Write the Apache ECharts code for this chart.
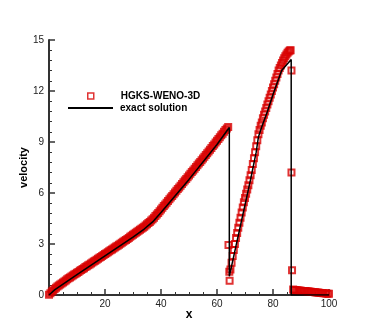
<!DOCTYPE html>
<html>
<head>
<meta charset="utf-8">
<script src="https://cdn.jsdelivr.net/npm/echarts@6/dist/echarts.min.js"></script>
<style>
  html, body { margin: 0; padding: 0; background: #fff; }
  #chart { width: 374px; height: 332px; }
</style>
</head>
<body>
<div id="chart"></div>
<script>
// HGKS-WENO-3D, smooth part sampled every 0.5 from x = 0 to 64
var smoothV = [
  0.02, 0.1, 0.2, 0.27, 0.35, 0.42, 0.5, 0.56, 0.62, 0.68,
  0.74, 0.8, 0.86, 0.92, 0.98, 1.03, 1.09, 1.14, 1.2, 1.25,
  1.31, 1.36, 1.42, 1.47, 1.53, 1.58, 1.64, 1.69, 1.75, 1.8,
  1.86, 1.91, 1.97, 2.02, 2.08, 2.13, 2.19, 2.24, 2.3, 2.35,
  2.41, 2.46, 2.52, 2.57, 2.63, 2.68, 2.74, 2.79, 2.85, 2.9,
  2.96, 3.01, 3.07, 3.13, 3.19, 3.24, 3.3, 3.36, 3.42, 3.48,
  3.54, 3.6, 3.66, 3.72, 3.78, 3.84, 3.9, 3.96, 4.02, 4.09,
  4.16, 4.23, 4.3, 4.38, 4.46, 4.55, 4.64, 4.73, 4.83, 4.93,
  5.03, 5.13, 5.23, 5.33, 5.43, 5.53, 5.63, 5.73, 5.83, 5.93,
  6.03, 6.13, 6.23, 6.33, 6.43, 6.53, 6.63, 6.73, 6.83, 6.93,
  7.03, 7.13, 7.23, 7.33, 7.43, 7.53, 7.63, 7.73, 7.83, 7.93,
  8.03, 8.13, 8.23, 8.34, 8.44, 8.55, 8.65, 8.76, 8.86, 8.97,
  9.07, 9.18, 9.28, 9.39, 9.49, 9.6, 9.7, 9.8, 9.88
];
// shock at x~64 and the rising part up to the second shock
var riseX = [
  64.1, 64.4, 64.5, 64.8, 65.2, 65.6, 66.0, 66.4, 66.8, 67.2, 67.6, 68.0,
  68.4, 68.8, 69.2, 69.6, 70.0, 70.4, 70.8, 71.2, 71.6, 72.0, 72.4, 72.8,
  73.2, 73.6, 74.0, 74.4, 74.8, 75.2, 75.6, 76.0, 76.4, 76.8, 77.2, 77.6,
  78.0, 78.4, 78.8, 79.2, 79.6, 80.0, 80.4, 80.8, 81.2, 81.6, 82.0, 82.4,
  82.8, 83.2, 83.6, 84.0, 84.4, 84.8, 85.2, 85.6, 86.0, 86.3
];
var riseV = [
  2.94, 1.37, 0.84, 1.5, 1.9, 2.3, 2.65, 3.0, 3.35, 3.65, 3.95, 4.25,
  4.55, 4.85, 5.15, 5.45, 5.7, 5.95, 6.2, 6.45, 6.75, 7.05, 7.35, 7.7,
  8.05, 8.4, 8.75, 9.1, 9.45, 9.7, 9.95, 10.15, 10.4, 10.6, 10.8, 11.0,
  11.2, 11.4, 11.6, 11.8, 12.0, 12.2, 12.4, 12.6, 12.8, 13.0, 13.2, 13.35,
  13.5, 13.65, 13.8, 13.92, 14.05, 14.15, 14.25, 14.32, 14.38, 14.4
];
// second shock and the tail
var tailX = [
  86.6, 86.6, 86.8, 87.2, 87.6, 88, 88.5, 89, 89.5, 90, 90.5, 91, 91.5,
  92, 92.5, 93, 93.5, 94, 94.5, 95, 95.5, 96, 96.5, 97, 97.5, 98, 98.5,
  99, 99.5, 100
];
var tailV = [
  13.2, 7.2, 1.45, 0.33, 0.3, 0.29, 0.28, 0.27, 0.26, 0.25, 0.24, 0.24, 0.23,
  0.22, 0.21, 0.2, 0.19, 0.18, 0.17, 0.16, 0.15, 0.14, 0.13, 0.12, 0.12, 0.11,
  0.1, 0.09, 0.08, 0.07
];
// exact solution
var exactX = [0, 2, 10, 20, 30, 34, 37, 40, 50, 60, 64.4, 64.4, 66, 68, 70, 72, 74, 74.8, 76, 78, 80, 82, 83.1, 86.5, 86.5, 100];
var exactV = [0, 0.3, 1.2, 2.3, 3.4, 3.88, 4.3, 4.85, 6.8, 8.85, 9.85, 1.1, 2.3, 3.8, 5.3, 6.8, 8.4, 9.3, 9.9, 10.8, 11.8, 12.7, 13.2, 13.85, 0, 0];

var numData = [];
smoothV.forEach(function (v, i) { numData.push([i * 0.5, v]); });
riseX.forEach(function (x, i) { numData.push([x, riseV[i]]); });
tailX.forEach(function (x, i) { numData.push([x, tailV[i]]); });
var exactData = exactX.map(function (x, i) { return [x, exactV[i]]; });

var red = '#d80000';
var font = 'Liberation Sans, Arial, sans-serif';

var chart = echarts.init(document.getElementById('chart'));
chart.setOption({
  animation: false,
  grid: { left: 49, right: 45, top: 40, bottom: 37 },
  legend: [
    {
      orient: 'vertical', left: 87, top: 91, padding: 0,
      itemWidth: 6, itemHeight: 6,
      data: [{
        name: 'HGKS-WENO-3D', icon: 'rect',
        itemStyle: { color: 'rgba(255,255,255,0)', borderColor: red, borderWidth: 1.5 }
      }],
      textStyle: { fontFamily: font, fontSize: 10, fontWeight: 'bold', color: '#000', padding: [0, 0, 0, 22] }
    },
    {
      orient: 'vertical', left: 68, top: 103, padding: 0,
      itemWidth: 45, itemHeight: 2,
      data: [{ name: 'exact solution', icon: 'rect', itemStyle: { color: '#000' } }],
      textStyle: { fontFamily: font, fontSize: 10, fontWeight: 'bold', color: '#000', padding: [0, 0, 0, 2] }
    }
  ],
  xAxis: {
    type: 'value', min: 0, max: 100, interval: 20,
    name: 'x', nameLocation: 'middle', nameGap: 14, nameMoveOverlap: false,
    nameTextStyle: { fontFamily: font, fontSize: 12, fontWeight: 'bold', color: '#000' },
    axisLine: { show: true, lineStyle: { color: '#333', width: 2 } },
    axisTick: { show: true, inside: true, length: 6, lineStyle: { color: '#333', width: 1.5 } },
    minorTick: { show: true, splitNumber: 4, length: 3, lineStyle: { color: '#333', width: 1 } },
    splitLine: { show: false },
    axisLabel: {
      fontFamily: font, fontSize: 10, color: '#222', margin: 4,
      formatter: function (v) { return v === 0 ? '' : v; }
    }
  },
  yAxis: {
    type: 'value', min: 0, max: 15, interval: 3,
    name: 'velocity', nameLocation: 'middle', nameGap: 20, nameMoveOverlap: false,
    nameTextStyle: { fontFamily: font, fontSize: 11, fontWeight: 'bold', color: '#000' },
    axisLine: { show: true, lineStyle: { color: '#333', width: 2 } },
    axisTick: { show: true, inside: true, length: 6, lineStyle: { color: '#333', width: 1.5 } },
    minorTick: { show: true, splitNumber: 5, length: 3, lineStyle: { color: '#333', width: 1 } },
    splitLine: { show: false },
    axisLabel: { fontFamily: font, fontSize: 10, color: '#222', margin: 5 }
  },
  series: [
    {
      name: 'HGKS-WENO-3D',
      type: 'scatter',
      symbol: 'rect',
      symbolSize: 6,
      clip: false,
      itemStyle: { color: 'rgba(255,255,255,0)', borderColor: red, borderWidth: 2 },
      data: numData
    },
    {
      name: 'exact solution',
      type: 'line',
      symbol: 'none',
      lineStyle: { color: '#000', width: 1.5 },
      itemStyle: { color: '#000' },
      data: exactData
    }
  ]
});
</script>
</body>
</html>
